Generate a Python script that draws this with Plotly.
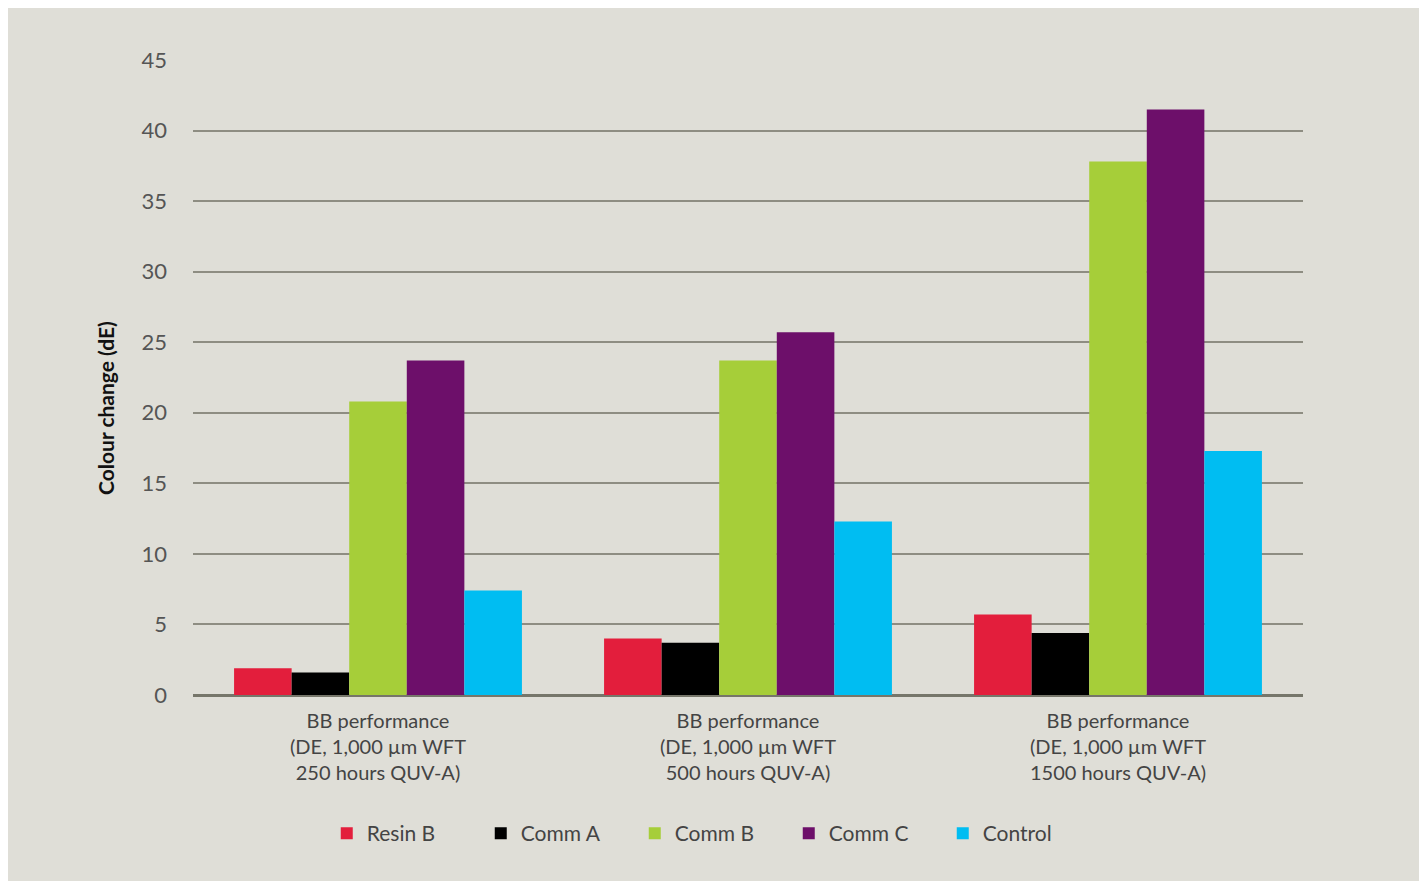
import plotly.graph_objects as go

categories = [
    "BB performance<br>(DE, 1,000 µm WFT<br>250 hours QUV-A)",
    "BB performance<br>(DE, 1,000 µm WFT<br>500 hours QUV-A)",
    "BB performance<br>(DE, 1,000 µm WFT<br>1500 hours QUV-A)",
]
resin_b = [1.9, 4.0, 5.7]
comm_a = [1.6, 3.7, 4.4]
comm_b = [20.8, 23.7, 37.8]
comm_c = [23.7, 25.7, 41.5]
control = [7.4, 12.3, 17.3]

series_names = ["Resin B", "Comm A", "Comm B", "Comm C", "Control"]
series_values = [resin_b, comm_a, comm_b, comm_c, control]
series_colors = ["#e31e3c", "#000000", "#a6ce39", "#6d0f6a", "#00bdf2"]

y_ticks = [0, 5, 10, 15, 20, 25, 30, 35, 40, 45]
y_title = "Colour change (dE)"

fig = go.Figure()
for name, vals, col in zip(series_names, series_values, series_colors):
    fig.add_trace(go.Bar(x=categories, y=vals, name=name, marker=dict(color=col, line=dict(width=0))))

font_family = "Lato, 'Open Sans', sans-serif"

fig.update_layout(
    width=1427, height=881,
    margin=dict(l=185, r=132, t=52, b=194),
    paper_bgcolor="#ffffff",
    plot_bgcolor="rgba(0,0,0,0)",
    barmode="group",
    bargap=0.222,
    bargroupgap=0,
    font=dict(family=font_family, color="#444444"),
    showlegend=True,
    legend=dict(
        orientation="h", x=0.1205, xanchor="left", y=-0.186, yanchor="top",
        font=dict(size=21, color="#444444", family=font_family),
        entrywidth=109, entrywidthmode="pixels",
        bgcolor="rgba(0,0,0,0)",
    ),
    shapes=[
        dict(type="rect", xref="paper", yref="paper", x0=-0.1667, x1=1.1063, y0=-0.5, y1=1.082,
             fillcolor="#dfded7", line=dict(width=0), layer="below"),
    ],
    annotations=[
        dict(text="<b>" + y_title + "</b>", xref="paper", yref="paper", x=-0.0784, y=0.452,
             xanchor="center", yanchor="middle", textangle=-90, showarrow=False,
             font=dict(size=21, color="#111111", family=font_family)),
    ],
)
fig.update_xaxes(
    showgrid=False, showline=False, ticks="", ticklabelstandoff=12,
    tickfont=dict(size=20, color="#444444", family=font_family),
)
fig.update_yaxes(
    range=[0, 45], tickvals=y_ticks, showgrid=True, gridcolor="#8e8d82", gridwidth=2,
    zeroline=True, zerolinecolor="#76766a", zerolinewidth=3,
    showline=False, ticks="", ticklabelstandoff=25,
    tickfont=dict(size=22, color="#555555", family=font_family),
)

fig.write_html("out.html")
